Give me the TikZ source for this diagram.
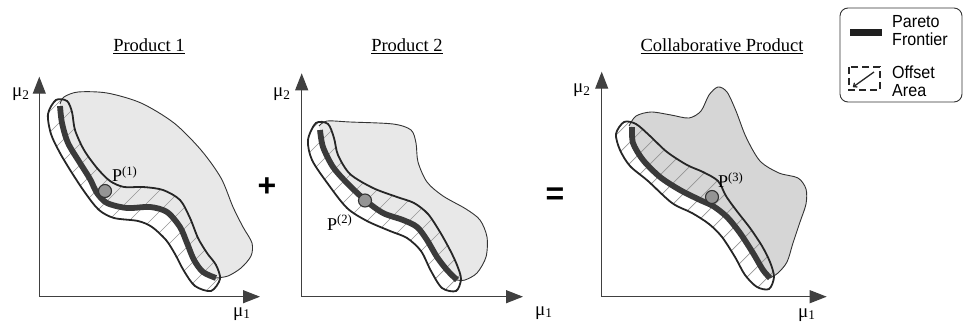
\documentclass[tikz,border=0pt]{standalone}
\usepackage{fontspec}
\setmainfont{Liberation Serif}
\newfontfamily\legendfont{Liberation Sans}
\usetikzlibrary{arrows.meta}
\definecolor{regA}{HTML}{E8E8E8}
\definecolor{regC}{HTML}{D6D6D6}
\definecolor{paretoc}{HTML}{3A3A3A}
\tikzset{
  axis/.style={draw=black!75, line width=1.1, -{Triangle[length=17pt,width=13pt]}},
  regionline/.style={draw=black!80, line width=0.9},
  bandline/.style={draw=black!85, line width=1.8},
  hatch/.style={draw=black!42, line width=0.7},
  pareto/.style={draw=paretoc, line width=5.8},
  ptdot/.style={circle, draw=black!80, fill=black!42, line width=1.1, minimum size=13pt, inner sep=0pt},
  serif/.style={inner sep=0pt, font=\fontsize{18.5}{20}\selectfont},
  axlbl/.style={inner sep=0pt, anchor=base west, font=\fontsize{19}{20}\selectfont},
  plbl/.style={inner sep=0pt, anchor=base west, font=\fontsize{18}{20}\selectfont},
  legtext/.style={inner sep=0pt, anchor=base west, font=\legendfont\fontsize{17.5}{17}\selectfont},
  opsign/.style={inner sep=0pt, font=\legendfont\bfseries\fontsize{32}{32}\selectfont}
}
\begin{document}
\begin{tikzpicture}[x=1pt,y=-1pt]
\useasboundingbox (0,0) rectangle (967,326);

% ---------------- Titles ----------------
\node[serif, anchor=base] (t1) at (149,52) {\underline{Product 1}};
\node[serif, anchor=base] (t2) at (407,52) {\underline{Product 2}};
\node[serif, anchor=base] (t3) at (722,52) {\underline{Collaborative Product}};

% ---------------- Panel 1 ----------------
\fill[regA] plot[smooth] coordinates {(216,278) (228,276) (241,268) (251,256) (252,243) (243,227) (233,207) (221,178) (201,150) (174,123) (141,103) (107,93) (78,92) (64,97) (60,104)}
  -- plot[smooth] coordinates {(60,106) (62,123) (68,143) (80,163) (90,179) (97,193) (107,203) (127,208) (150,207) (167,212) (180,227) (187,243) (194,260) (203,272) (216,278)} -- cycle;
\draw[regionline] plot[smooth] coordinates {(216,278) (228,276) (241,268) (251,256) (252,243) (243,227) (233,207) (221,178) (201,150) (174,123) (141,103) (107,93) (78,92) (64,97) (60,104)};
\begin{scope}
\clip plot[smooth cycle] coordinates {(56,100) (67,101) (72,112) (75,130) (84,150) (97,168) (110,181) (124,187) (143,187) (163,190) (180,200) (190,218) (198,238) (207,253) (216,265) (220,279) (211,291) (195,286) (184,271) (175,254) (166,240) (152,227) (138,221) (114,218) (99,210) (86,194) (72,173) (60,153) (51,134) (48,114)};
\foreach \c in {140,161,...,530} \draw[hatch] (\c,0) -- (0,\c);
\end{scope}
\draw[bandline] plot[smooth cycle] coordinates {(56,100) (67,101) (72,112) (75,130) (84,150) (97,168) (110,181) (124,187) (143,187) (163,190) (180,200) (190,218) (198,238) (207,253) (216,265) (220,279) (211,291) (195,286) (184,271) (175,254) (166,240) (152,227) (138,221) (114,218) (99,210) (86,194) (72,173) (60,153) (51,134) (48,114)};
\draw[pareto] plot[smooth] coordinates {(60,106) (62,123) (68,143) (80,163) (90,179) (97,193) (107,203) (127,208) (150,207) (167,212) (180,227) (187,243) (194,260) (203,272) (216,278)};
\node[ptdot] (p1) at (105,191) {};
\node[plbl] (l1) at (112,182) {P\textsuperscript{(1)}};
\coordinate (o1) at (39.3,296.7);
\coordinate (ya1) at (39.3,76.7);
\coordinate (xa1) at (260,296.7);
\draw[axis] (o1) -- (ya1);
\draw[axis] (o1) -- (xa1);
\node[axlbl] (m21) at (12,97) {μ\textsubscript{2}};
\node[axlbl] (m11) at (233,316) {μ\textsubscript{1}};

\node[opsign] (plus) at (267,187) {+};

% ---------------- Panel 2 ----------------
\fill[regA] plot[smooth] coordinates {(457,280) (465,280) (477,273) (486,257) (487,237) (480,220) (466,209) (443,196) (427,182) (418,162) (416,143) (411,130) (393,124) (350,122) (327,121) (319,126)}
  -- plot[smooth] coordinates {(320,130) (323,147) (333,167) (347,183) (365,200) (383,213) (403,220) (417,227) (427,240) (437,257) (447,270) (457,280)} -- cycle;
\draw[regionline] plot[smooth] coordinates {(457,280) (465,280) (477,273) (486,257) (487,237) (480,220) (466,209) (443,196) (427,182) (418,162) (416,143) (411,130) (393,124) (350,122) (327,121) (319,126)};
\begin{scope}
\clip plot[smooth cycle] coordinates {(316,123) (328,124) (334,138) (338,155) (350,174) (373,188) (397,197) (414,203) (428,214) (440,232) (450,250) (457,265) (461,279) (456,291) (442,288) (431,271) (421,251) (407,238) (390,231) (367,221) (347,208) (328,184) (312,160) (308,140)};
\foreach \c in {420,441,...,770} \draw[hatch] (\c,0) -- (0,\c);
\end{scope}
\draw[bandline] plot[smooth cycle] coordinates {(316,123) (328,124) (334,138) (338,155) (350,174) (373,188) (397,197) (414,203) (428,214) (440,232) (450,250) (457,265) (461,279) (456,291) (442,288) (431,271) (421,251) (407,238) (390,231) (367,221) (347,208) (328,184) (312,160) (308,140)};
\draw[pareto] plot[smooth] coordinates {(320,130) (323,147) (333,167) (347,183) (365,200) (383,213) (403,220) (417,227) (427,240) (437,257) (447,270) (457,280)};
\node[ptdot] (p2) at (365,200.5) {};
\node[plbl] (l2) at (327,230) {P\textsuperscript{(2)}};
\coordinate (o2) at (301.7,296.7);
\coordinate (ya2) at (301.7,73.3);
\coordinate (xa2) at (523,296.7);
\draw[axis] (o2) -- (ya2);
\draw[axis] (o2) -- (xa2);
\node[axlbl] (m22) at (273,97) {μ\textsubscript{2}};
\node[axlbl] (m12) at (535,315) {μ\textsubscript{1}};

\node[opsign] (equal) at (555,196) {=};

% ---------------- Panel 3 ----------------
\fill[regC] plot[smooth] coordinates {(770,278) (778,273) (787,262) (793,243) (800,222) (806,204) (806,189) (798,178) (779,173) (760,161) (746,137) (736,111) (727,92) (718,87) (709,95) (701,111) (689,118) (671,115) (651,112) (636,116) (629,126)}
  -- plot[smooth] coordinates {(632,127) (633,143) (643,160) (660,177) (680,190) (700,200) (713,206) (727,217) (740,233) (753,253) (763,270) (770,278)} -- cycle;
\draw[regionline] plot[smooth] coordinates {(770,278) (778,273) (787,262) (793,243) (800,222) (806,204) (806,189) (798,178) (779,173) (760,161) (746,137) (736,111) (727,92) (718,87) (709,95) (701,111) (689,118) (671,115) (651,112) (636,116) (629,126)};
\begin{scope}
\clip plot[smooth cycle] coordinates {(624,122) (636,124) (650,136) (667,152) (687,165) (703,172) (718,181) (726,196) (736,210) (750,228) (762,246) (770,262) (774,277) (769,289) (757,287) (745,275) (735,257) (722,237) (709,224) (692,213) (672,203) (648,181) (630,166) (620,150) (616,134)};
\foreach \c in {730,751,...,1080} \draw[hatch] (\c,0) -- (0,\c);
\end{scope}
\draw[bandline] plot[smooth cycle] coordinates {(624,122) (636,124) (650,136) (667,152) (687,165) (703,172) (718,181) (726,196) (736,210) (750,228) (762,246) (770,262) (774,277) (769,289) (757,287) (745,275) (735,257) (722,237) (709,224) (692,213) (672,203) (648,181) (630,166) (620,150) (616,134)};
\draw[pareto] plot[smooth] coordinates {(632,127) (633,143) (643,160) (660,177) (680,190) (700,200) (713,206) (727,217) (740,233) (753,253) (763,270) (770,278)};
\node[ptdot] (p3) at (712,197) {};
\node[plbl] (l3) at (718,188) {P\textsuperscript{(3)}};
\coordinate (o3) at (601.7,296.7);
\coordinate (ya3) at (601.7,71.7);
\coordinate (xa3) at (826.7,296.7);
\draw[axis] (o3) -- (ya3);
\draw[axis] (o3) -- (xa3);
\node[axlbl] (m23) at (573,93) {μ\textsubscript{2}};
\node[axlbl] (m13) at (798,317) {μ\textsubscript{1}};

% ---------------- Legend ----------------
\node[draw=black!80, line width=0.9, rounded corners=8pt, minimum width=122pt, minimum height=94pt, inner sep=0pt] (legend) at (901,55) {};
\fill[black!88] (850,29) rectangle (882,36);
\draw[black!85, line width=1.5, dash pattern=on 7pt off 4pt, dash phase=0pt] (849,67) rectangle (880,90);
\coordinate (la) at (874,72);
\coordinate (lb) at (853,87);
\draw[black!85, line width=1.3, -{To[length=4pt,width=6pt]}] (la) -- (lb);
\node[legtext] (lg1) at (892,28) {\scalebox{0.92}[1]{Pareto}};
\node[legtext] (lg2) at (892,46) {\scalebox{0.92}[1]{Frontier}};
\node[legtext] (lg3) at (892,79) {\scalebox{0.92}[1]{Offset}};
\node[legtext] (lg4) at (892,97) {\scalebox{0.92}[1]{Area}};
\end{tikzpicture}
\end{document}
